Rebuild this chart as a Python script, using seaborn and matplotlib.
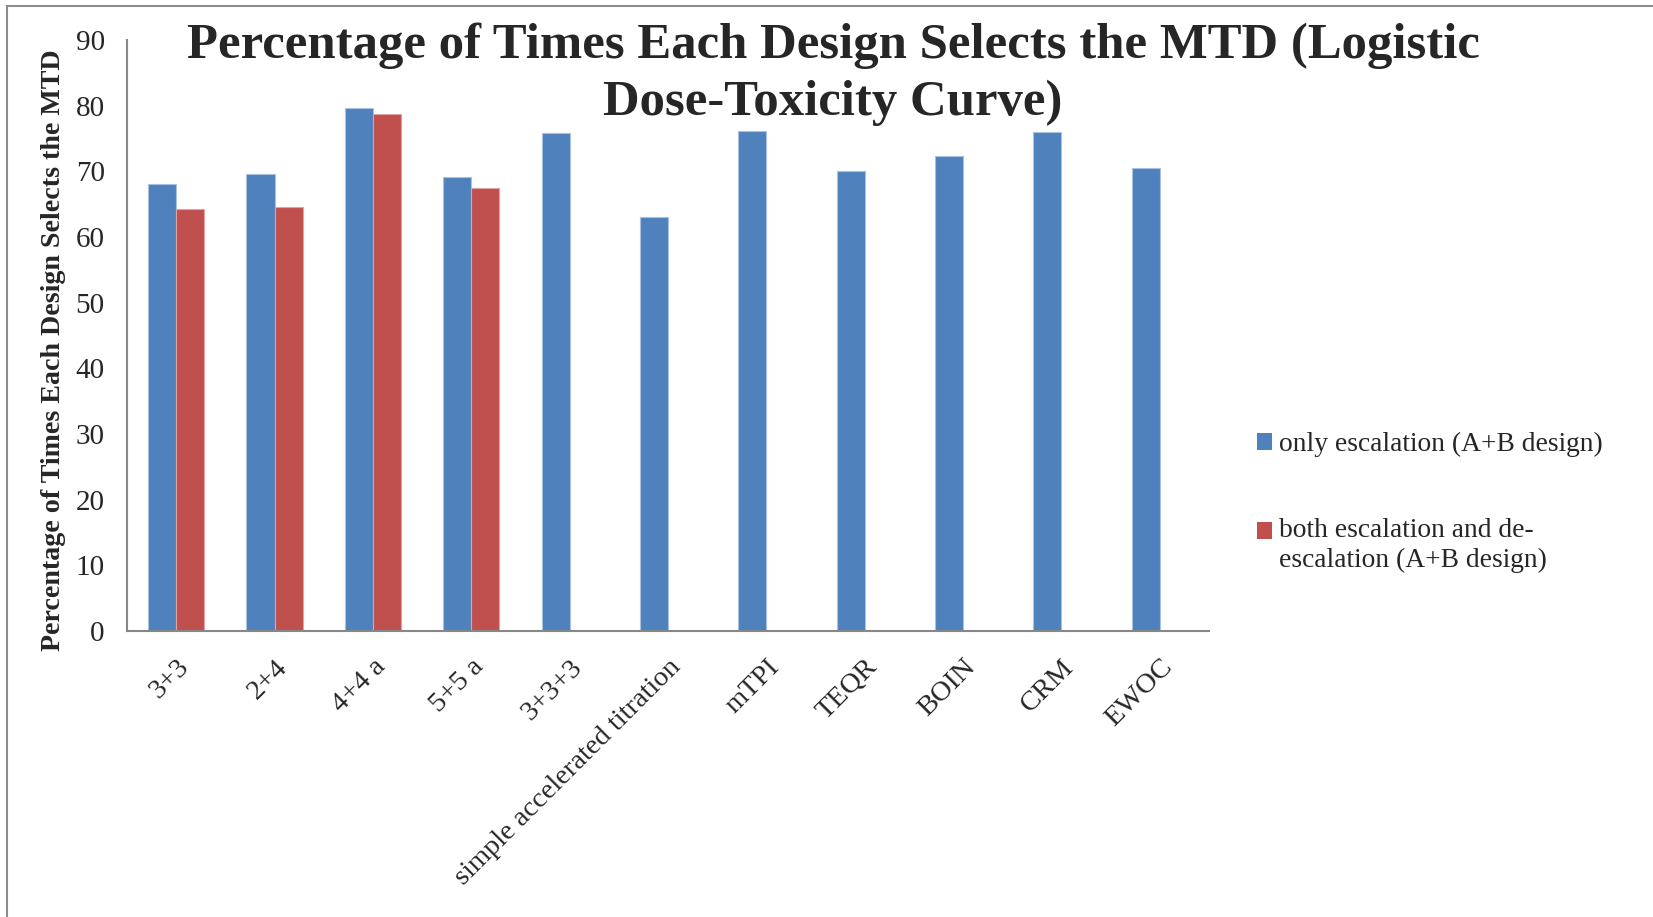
import matplotlib
matplotlib.use("Agg")
import matplotlib.pyplot as plt
import seaborn as sns
import pandas as pd
from matplotlib.patches import Rectangle, Patch

# Designs along the x axis
designs = ["3+3", "2+4", "4+4 a", "5+5 a", "3+3+3", "simple accelerated titration",
           "mTPI", "TEQR", "BOIN", "CRM", "EWOC"]

# Percentage of times each design selects the MTD
only_escalation = [68.0, 69.6, 79.7, 69.2, 75.9, 63.0, 76.1, 70.0, 72.3, 76.0, 70.5]
esc_deesc_designs = ["3+3", "2+4", "4+4 a", "5+5 a"]
esc_deesc = [64.3, 64.6, 78.8, 67.5]

series_names = ["only escalation (A+B design)",
                "both escalation and de-escalation (A+B design)"]
legend_labels = ["only escalation (A+B design)",
                 "both escalation and de-\nescalation (A+B design)"]
colors = ["#4F81BD", "#C0504D"]
edge_colors = ["#A9C1E0", "#E0A3A1"]
yticks = [0, 10, 20, 30, 40, 50, 60, 70, 80, 90]

title_text = "Percentage of Times Each Design Selects the MTD (Logistic\nDose-Toxicity Curve)"
ylabel_text = "Percentage of Times Each Design Selects the MTD"

df = pd.concat([
    pd.DataFrame({"design": designs, "pct": only_escalation, "series": series_names[0]}),
    pd.DataFrame({"design": esc_deesc_designs, "pct": esc_deesc, "series": series_names[1]}),
], ignore_index=True)

sns.set_style("white")
plt.rcParams["font.family"] = ["Liberation Serif", "DejaVu Serif"]

fig = plt.figure(figsize=(16.53, 9.17), dpi=100)
ax = fig.add_axes([0.0768, 0.3119, 0.6546, 0.6445])

sns.barplot(data=df, x="design", y="pct", hue="series", order=designs,
            hue_order=series_names, palette=colors, width=0.57, gap=0,
            saturation=1, linewidth=0, legend=False, ax=ax)

# light outline around bars
for cont, ec in zip(ax.containers, edge_colors):
    for bar in cont:
        bar.set_edgecolor(ec)
        bar.set_linewidth(0.8)

axis_gray = "#878787"
ax.set_xlim(-0.5, len(designs) - 0.5)
ax.set_ylim(0, 90)
ax.set_yticks(yticks)
ax.set_yticklabels([str(v) for v in yticks], fontsize=21)
ax.set_xticks(range(len(designs)))
ax.set_xticklabels(designs, rotation=45, ha="right", va="top",
                   rotation_mode="anchor", fontsize=20.5)
ax.set_xticks([i - 0.5 for i in range(len(designs) + 1)], minor=True)
ax.tick_params(axis="x", which="major", length=0, pad=17)
ax.tick_params(axis="x", which="minor", length=7, width=1.5, color=axis_gray, direction="out")
ax.tick_params(axis="y", length=7, width=1.5, color=axis_gray, direction="out", pad=9)

for side in ["top", "right"]:
    ax.spines[side].set_visible(False)
for side in ["left", "bottom"]:
    ax.spines[side].set_color(axis_gray)
    ax.spines[side].set_linewidth(1.5)

ax.set_xlabel("")
ax.set_ylabel("")
fig.text(0.0325, 0.618, ylabel_text, rotation=90, ha="center", va="center",
         fontsize=20.2, fontweight="bold")

fig.text(0.504, 0.975, title_text, ha="center", va="top", fontsize=36.5,
         fontweight="bold", linespacing=1.29)

handles = [Patch(facecolor=c, edgecolor="none") for c in colors]
leg = fig.legend(handles=handles, labels=legend_labels, loc="upper left",
                 bbox_to_anchor=(0.7456, 0.556), frameon=False, fontsize=19.8,
                 handlelength=0.55, handleheight=0.55, handletextpad=0.25,
                 labelspacing=2.2)
for t in leg.get_texts():
    t.set_linespacing(1.3)
# keep the second marker level with the first line of its label
red_handle = leg.legend_handles[1]
red_handle.set_y(red_handle.get_y() + 10.5)

# chart area border
fig.add_artist(Rectangle((0.004, -0.05), 1.2, 0.05 + 1 - 6 / 917,
                         transform=fig.transFigure, fill=False,
                         edgecolor="#8C8C8C", linewidth=1.5))

fig.savefig("out.png", dpi=100)
